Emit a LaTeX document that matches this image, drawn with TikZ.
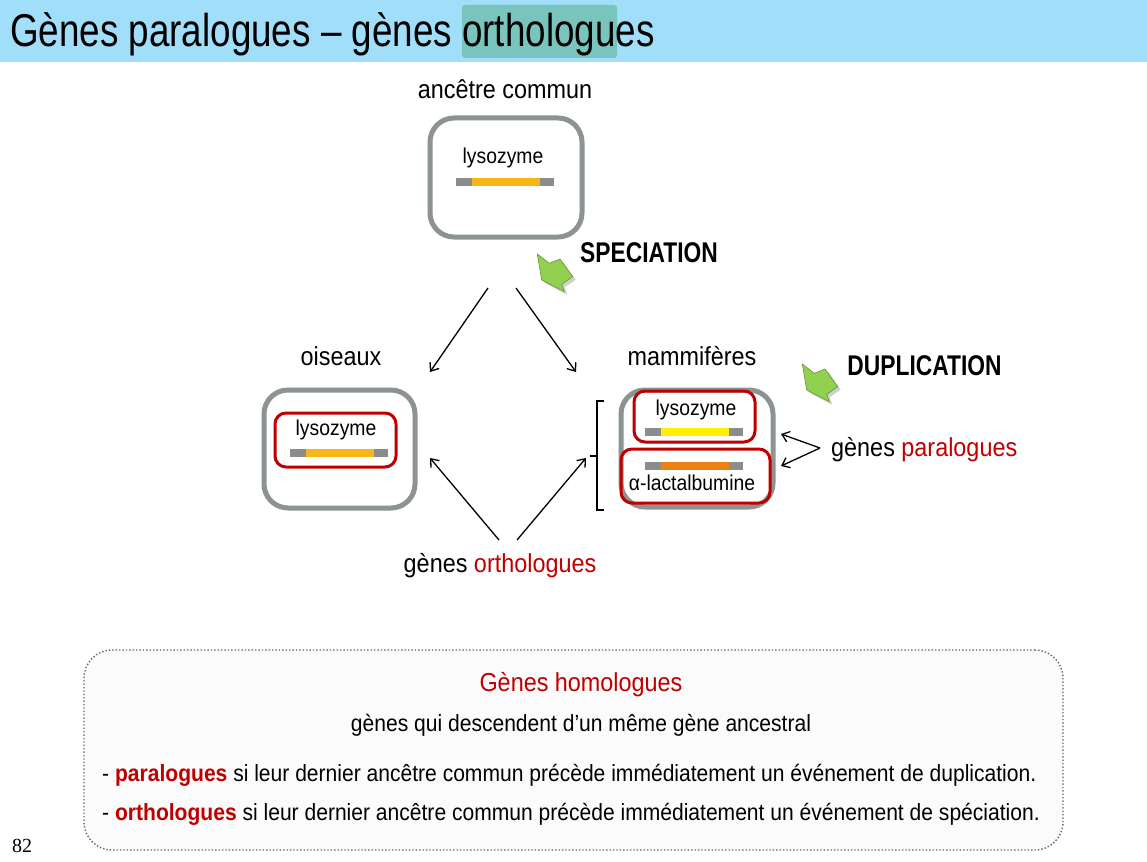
\documentclass[tikz,border=0pt]{standalone}
\usepackage{fontspec}
\setmainfont[FakeStretch=0.9]{Liberation Sans}
\newfontfamily\titlefont[FakeStretch=0.8]{Liberation Sans}
\newfontfamily\pagefont{Liberation Serif}
\usetikzlibrary{arrows.meta,positioning,calc}
\definecolor{titlebg}{RGB}{160,222,250}
\definecolor{markteal}{RGB}{122,196,190}
\definecolor{boxgray}{RGB}{140,147,145}
\definecolor{bargray}{RGB}{140,140,140}
\definecolor{genered}{RGB}{192,0,0}
\definecolor{lysorange}{RGB}{247,183,24}
\definecolor{lysyellow}{RGB}{255,240,0}
\definecolor{lacorange}{RGB}{236,130,20}
\definecolor{eventgreen}{RGB}{146,208,80}
\definecolor{notefill}{RGB}{251,251,251}
\newcommand{\genebar}[4]{%
  \fill[bargray] (#1,#3-4) rectangle (#2,#3+4);
  \fill[#4] (#1+16,#3-4) rectangle (#2-14,#3+4);
}
\newcommand{\eventarrow}[2]{%
  \fill[black!30, opacity=0.6, shift={(#1+3,#2+3)}]
    (0,0) -- (12,9.3) -- (22.7,5) -- (35.4,22.7) -- (24.4,30.3) -- (27,37.7) -- (4.4,26) -- cycle;
  \filldraw[fill=eventgreen, draw=eventgreen!70!black, line width=0.6pt, shift={(#1,#2)}]
    (0,0) -- (12,9.3) -- (22.7,5) -- (35.4,22.7) -- (24.4,30.3) -- (27,37.7) -- (4.4,26) -- cycle;
}
\begin{document}
\begin{tikzpicture}[x=1pt, y=-1pt,
  species/.style={draw=boxgray, line width=5pt, rounded corners=24pt},
  genebox/.style={draw=genered, line width=3pt, rounded corners=11pt},
  heading/.style={font=\fontsize{26}{30}\selectfont, anchor=base, inner sep=0pt},
  genelabel/.style={font=\fontsize{21.5}{25}\selectfont, anchor=base, inner sep=0pt},
  eventlabel/.style={font=\titlefont\bfseries\fontsize{28.5}{32}\selectfont, anchor=base, inner sep=0pt},
  bodytext/.style={font=\fontsize{23.4}{28}\selectfont, anchor=base, inner sep=0pt},
  arrow/.style={-{Straight Barb[length=7pt,width=11pt]}, line width=1.3pt}]
\useasboundingbox (0,0) rectangle (1147,861);
\fill[white] (0,0) rectangle (1147,861);
\fill[titlebg] (0,0) rectangle (1147,62);
\fill[markteal, rounded corners=3pt] (462,5) rectangle (617,58);
\node[font=\titlefont\fontsize{46}{50}\selectfont, anchor=base west, inner sep=0pt] (title) at (10,47) {Gènes paralogues – gènes orthologues};

\node[heading] (ancl) at (505,99) {ancêtre commun};
\node[species, minimum width=152pt, minimum height=119pt] (anc) at (506,177.5) {};
\node[genelabel] (anclyso) at (503,164) {lysozyme};
\genebar{456}{554}{181.5}{lysorange}

\node[eventlabel] (spec) at (649,262) {SPECIATION};
\eventarrow{537.3}{254}
\coordinate (splitl) at (488,288);
\coordinate (splitr) at (516,288);
\coordinate (birdin) at (430,372);
\coordinate (mamin) at (576,372);
\draw[arrow] (splitl) -- (birdin);
\draw[arrow] (splitr) -- (mamin);

\node[heading] (birdl) at (341,365) {oiseaux};
\node[species, minimum width=151pt, minimum height=118pt] (bird) at (339.5,449) {};
\node[genebox, minimum width=121pt, minimum height=54pt] (birdlyso) at (335.5,440) {};
\node[genelabel] at (336,435) {lysozyme};
\genebar{290}{388}{453}{lysorange}

\node[heading] (maml) at (692,365) {mammifères};
\node[species, minimum width=152pt, minimum height=117pt] (mam) at (697,448.5) {};
\node[genebox, minimum width=121pt, minimum height=51pt] (mamlyso) at (694.5,416.5) {};
\node[genelabel] at (696,415) {lysozyme};
\genebar{645}{743}{431.5}{lysyellow}
\node[genebox, minimum width=149pt, minimum height=54pt] (mamlac) at (695.5,476) {};
\node[genelabel] at (692,490) {α-lactalbumine};
\genebar{645}{743}{465.5}{lacorange}
\draw[line width=1.2pt] (604,401) -- (597,401) -- (597,510) -- (604,510);
\draw[line width=1.2pt] (597,456) -- (590,456);

\node[eventlabel] (dup) at (924.5,375) {DUPLICATION};
\eventarrow{802.3}{364}

\node[heading, anchor=base west] (para) at (831,456) {gènes \textcolor{genered}{paralogues}};
\coordinate (parafork) at (820,448);
\coordinate (lysoend) at (781,434);
\coordinate (lacend) at (781,466);
\draw[arrow] (parafork) -- (lysoend);
\draw[arrow] (parafork) -- (lacend);

\node[heading] (ortho) at (500,572) {gènes \textcolor{genered}{orthologues}};
\coordinate (orthol) at (499,540);
\coordinate (orthor) at (517,540);
\coordinate (birdend) at (430,458);
\coordinate (mamend) at (586,458);
\draw[arrow] (orthol) -- (birdend);
\draw[arrow] (orthor) -- (mamend);

\node[draw=black!60, fill=notefill, dotted, line width=1.4pt, rounded corners=28pt, minimum width=979pt, minimum height=200pt] (homol) at (573.5,750) {};
\node[heading, text=genered] (homt) at (581,691) {Gènes homologues};
\node[bodytext] (homdef) at (581,731) {gènes qui descendent d’un même gène ancestral};
\node[bodytext, anchor=base west] (paradef) at (102,781) {- \textcolor{genered}{\bfseries paralogues} si leur dernier ancêtre commun précède immédiatement un événement de duplication.};
\node[bodytext, anchor=base west] (orthodef) at (102,820) {- \textcolor{genered}{\bfseries orthologues} si leur dernier ancêtre commun précède immédiatement un événement de spéciation.};

\node[font=\pagefont\fontsize{20}{24}\selectfont, anchor=base west, inner sep=0pt] (page) at (12,852) {82};
\end{tikzpicture}
\end{document}
